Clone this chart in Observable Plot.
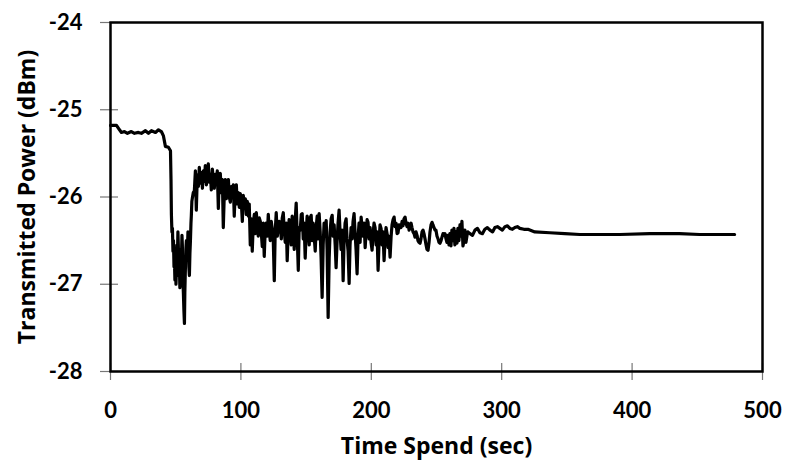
<!DOCTYPE html>
<html>
<head>
<meta charset="utf-8">
<script src="https://cdn.jsdelivr.net/npm/d3@7"></script>
<script src="https://cdn.jsdelivr.net/npm/@observablehq/plot@0.6"></script>
<style>
  html, body { margin: 0; padding: 0; background: #fff; }
  #chart svg { display: block; }
</style>
</head>
<body>
<div id="chart"></div>
<script>
// Time (sec)
const timeSec = [
  0, 4.6, 6.9, 8.4, 10.7, 13, 16, 18.4, 21.4, 23.7, 26.8, 29.1, 31.4, 34.5, 36.8, 39, 40.6,
  42.1, 44.4, 46.0, 46.4, 46.7, 47.1, 47.5, 47.9, 48.3, 48.7, 49.0, 49.4, 49.8, 50.2, 50.5,
  50.9, 51.3, 51.7, 52.0, 52.4, 52.8, 53.2, 53.6, 54.0, 54.4, 54.8, 55.1, 55.5, 55.9, 56.3,
  56.7, 57.0, 57.4, 57.8, 58.2, 58.6, 59.0, 59.4, 59.7, 60.1, 60.5, 60.9, 61.3, 61.7, 62.0,
  62.4, 62.8, 63.5, 64.3,
  65.1, 65.8, 66.6, 67.4, 68.1, 68.9, 69.7, 70.5, 71.2, 72.0, 72.7, 73.5, 74.3, 75.0, 75.8,
  76.6, 77.3, 78.1, 78.9, 79.6, 80.4, 81.1, 81.9, 82.7, 83.4, 84.2, 85.0, 85.8, 86.5, 87.3,
  88.1, 88.8, 89.6, 90.4, 91.1, 91.9, 92.7, 93.4, 94.2, 94.9, 95.7, 96.5, 97.2, 98.0, 98.8,
  99.5, 100.3, 101.1, 101.8, 102.6, 103.4, 104.1, 104.9, 105.7, 106.4, 107.2, 108.0, 108.7,
  109.5, 110.3, 111.0, 111.8, 112.6, 113.3, 114.1, 114.9, 115.6, 116.4, 117.2, 117.9, 118.7,
  119.4, 120.2, 121.0, 121.7, 122.5, 123.3, 124.0, 124.8, 125.6, 126.3, 127.1, 127.9, 128.6,
  129.4, 130.2, 131.0, 131.7, 132.5, 133.3, 134.0, 134.8, 135.5, 136.3, 137.0, 137.8, 138.6,
  139.3, 140.1, 140.9, 141.6, 142.4, 143.2, 144.0, 144.7, 145.5, 146.3, 147.0, 147.8, 148.5,
  149.3, 150.1, 150.8, 151.6, 152.4, 153.1, 153.9, 154.7, 155.4, 156.2, 157.0, 157.7, 158.5,
  159.3, 160.0, 160.8, 161.5, 162.3, 163.1, 163.8, 164.6, 165.4, 166.1, 166.9, 167.7, 168.4,
  169.2, 170.0, 170.7, 171.5, 172.3, 173.0, 173.8, 174.5, 175.3, 176.1, 176.8, 177.6, 178.4,
  179.1, 179.9, 180.7, 181.4, 182.2, 183.0, 183.7, 184.5, 185.3, 186.0, 186.8, 187.6, 188.3,
  189.1, 189.9, 190.6, 191.4, 192.2, 192.9, 193.7, 194.5, 195.3, 196.0, 196.8, 197.5, 198.3,
  199.1, 199.8, 200.6, 201.4, 202.1, 202.9, 203.7, 204.4, 205.2, 206.0, 206.7, 207.5, 208.3,
  209.0, 209.8, 210.6, 211.3, 212.1, 212.9, 213.6, 214.4, 215.2, 215.9, 216.7, 217.5, 218.2,
  219.0, 219.8, 220.5, 221.3, 222.0, 222.8, 223.6, 224.3, 225.1, 225.9, 226.6, 227.4, 228.2,
  229.0, 229.7, 230.5, 231.2, 232.0, 232.8, 233.5, 234.3, 235.1, 235.8, 236.6, 237.4, 238.1,
  238.9, 239.7, 240.4, 241.2, 242.0, 242.7, 243.5, 244.3, 245.0, 245.8, 246.6, 247.3, 248.1,
  248.9, 249.6, 250.4, 251.2, 251.9, 252.7, 253.5, 254.2, 255.0, 255.8, 256.5, 257.3, 258.0,
  258.8, 259.6, 260.3, 261.1, 261.8, 262.6, 263.4, 264.1, 264.9, 265.7, 266.4, 267.2, 268.0,
  268.7, 269.5, 270.3, 271.1, 271.8, 272.6, 273.4, 274.1, 275.7, 277.6, 279.5, 281.4, 283.3,
  285.2, 287.1, 289.0, 291.0, 293.0, 294.8, 296.7, 298.6, 300.5, 302.5, 304.4, 306.3, 308.2,
  310.1, 312.0, 313.9, 317.0, 320.1, 325.4, 336.9, 348.4, 359.9, 390.5, 413.5, 436.4, 451.8,
  478.6
];
// Transmitted power (dBm)
const powerDbm = [
  -25.18, -25.18, -25.23, -25.26, -25.25, -25.27, -25.25, -25.27, -25.26, -25.27, -25.24,
  -25.27, -25.24, -25.26, -25.23, -25.25, -25.30,
  -25.42, -25.43, -25.47, -25.80, -26.20, -26.40, -26.36, -26.62, -26.50, -26.80, -26.70,
  -26.95, -26.60, -27.00, -26.85, -26.55, -26.70, -26.40, -26.55, -26.90, -26.75, -27.04,
  -26.90, -26.60, -26.70, -26.44, -26.55, -26.96, -27.10, -27.30, -27.45, -27.10, -26.84,
  -26.60, -26.50, -26.72, -26.62, -26.40, -26.45, -26.80, -26.90, -26.65, -26.50, -26.30,
  -26.21, -26.05, -26.01, -25.95, -25.93,
  -25.70, -26.15, -25.75, -25.88, -25.66, -25.84, -25.72, -25.90, -25.70, -25.82, -25.64,
  -25.86, -25.72, -25.62, -25.83, -25.74, -25.92, -25.68, -25.80, -25.90, -25.74, -25.86,
  -25.70, -26.13, -25.78, -25.73, -25.95, -25.80, -26.35, -25.95, -25.80, -26.02, -25.88,
  -25.80, -26.00, -26.06, -25.88, -25.96, -25.86, -26.22, -25.92, -25.86, -26.08, -25.95,
  -26.12, -25.96, -26.05, -26.28, -25.98, -26.10, -26.02, -26.20, -26.05, -26.22, -26.08,
  -26.55, -26.25, -26.62, -26.30, -26.20, -26.42, -26.18, -26.30, -26.45, -26.24, -26.28,
  -26.40, -26.57, -26.30, -26.68, -26.36, -26.30, -26.45, -26.20, -26.38, -26.50, -26.28,
  -26.36, -26.48, -26.96, -26.40, -26.18, -26.45, -26.36, -26.28, -26.34, -26.48, -26.24,
  -26.18, -26.40, -26.52, -26.30, -26.73, -26.40, -26.26, -26.34, -26.55, -26.22, -26.38,
  -26.60, -26.28, -26.07, -26.45, -26.84, -26.35, -26.38, -26.20, -26.19, -26.48, -26.30,
  -26.70, -26.40, -26.22, -26.34, -26.55, -26.24, -26.21, -26.50, -26.30, -26.45, -26.62,
  -26.35, -26.22, -26.48, -26.19, -26.40, -26.70, -27.15, -26.55, -26.30, -26.45, -26.27,
  -26.60, -27.38, -26.70, -26.40, -26.25, -26.21, -26.45, -26.32, -26.55, -26.81, -26.50,
  -26.30, -26.15, -26.42, -26.60, -26.38, -26.96, -26.52, -26.30, -26.25, -26.48, -26.62,
  -26.99, -26.55, -26.35, -26.48, -26.28, -26.19, -26.42, -26.60, -26.88, -26.45, -26.30,
  -26.52, -26.23, -26.36, -26.45, -26.30, -26.58, -26.40, -26.26, -26.29, -26.48, -26.35,
  -26.52, -26.61, -26.42, -26.30, -26.35, -26.55, -26.40, -26.84, -26.50, -26.32, -26.36,
  -26.55, -26.40, -26.73, -26.48, -26.35, -26.42, -26.58, -26.45, -26.69, -26.45, -26.32,
  -26.26, -26.23, -26.34, -26.30, -26.42, -26.41, -26.32, -26.35, -26.35, -26.28, -26.33,
  -26.25, -26.23, -26.30, -26.34, -26.30, -26.38, -26.33, -26.30, -26.35, -26.40, -26.42,
  -26.46, -26.40, -26.44, -26.50, -26.52, -26.53, -26.48, -26.40, -26.38, -26.42, -26.48,
  -26.55, -26.60, -26.61, -26.52, -26.40, -26.32, -26.29, -26.32, -26.35, -26.38, -26.38,
  -26.45, -26.48, -26.52, -26.53, -26.50, -26.46, -26.42, -26.44, -26.42, -26.48, -26.52,
  -26.44, -26.55, -26.42, -26.56, -26.38, -26.50, -26.36, -26.55, -26.40, -26.53, -26.36,
  -26.50, -26.32, -26.45, -26.28, -26.56, -26.50, -26.38, -26.52, -26.44, -26.40, -26.42,
  -26.44, -26.38, -26.36, -26.41, -26.42, -26.37, -26.35, -26.38, -26.40, -26.35, -26.34,
  -26.36, -26.38, -26.34, -26.33, -26.36, -26.37, -26.35, -26.34, -26.36, -26.37, -26.37,
  -26.40, -26.41, -26.42, -26.43, -26.43, -26.42, -26.42, -26.43, -26.43
];
const xTicks = [0, 100, 200, 300, 400, 500];
const yTicks = [-28, -27, -26, -25, -24];
const xLabel = "Time Spend (sec)";
const yLabel = "Transmitted Power (dBm)";

const data = timeSec.map((t, i) => ({t, p: powerDbm[i]}));
const tickFont = "Lato, 'Open Sans', sans-serif";
const titleFont = "'Open Sans', Lato, sans-serif";

const chart = Plot.plot({
  width: 786,
  height: 462,
  marginLeft: 110,
  marginRight: 24,
  marginTop: 22,
  marginBottom: 91,
  style: {fontFamily: tickFont, background: "#fff", color: "#000"},
  x: {domain: [0, 500], ticks: xTicks},
  y: {domain: [-28, -24], ticks: yTicks},
  marks: [
    Plot.ruleY(yTicks, {y: d => d, x1: 0, x2: 0, insetLeft: -10, insetRight: -8, stroke: "#777", strokeWidth: 1.2}),
    Plot.ruleX(xTicks, {x: d => d, y1: -28, y2: -28, insetTop: -8, insetBottom: -9, stroke: "#777", strokeWidth: 1.2}),
    Plot.line(data, {x: "t", y: "p", stroke: "#000", strokeWidth: 3.2, strokeLinejoin: "round", strokeLinecap: "round"}),
    Plot.frame({stroke: "#000", strokeWidth: 2.5}),
    Plot.axisY({ticks: yTicks, tickSize: 0, tickPadding: 28, label: null, fontSize: 22, fontWeight: "bold", tickFormat: d => d}),
    Plot.axisX({ticks: xTicks, tickSize: 0, tickPadding: 31, label: null, fontSize: 22, fontWeight: "bold"}),
    Plot.text([yLabel], {frameAnchor: "left", dx: -83, rotate: -90, text: d => d, fontFamily: titleFont, fontSize: 23, fontWeight: "bold", fill: "#000", textAnchor: "middle", lineAnchor: "middle"}),
    Plot.text([xLabel], {frameAnchor: "bottom", dy: 75, text: d => d, fontFamily: titleFont, fontSize: 23, fontWeight: "bold", fill: "#000", textAnchor: "middle", lineAnchor: "middle"})
  ]
});
document.getElementById("chart").appendChild(chart);
</script>
</body>
</html>
